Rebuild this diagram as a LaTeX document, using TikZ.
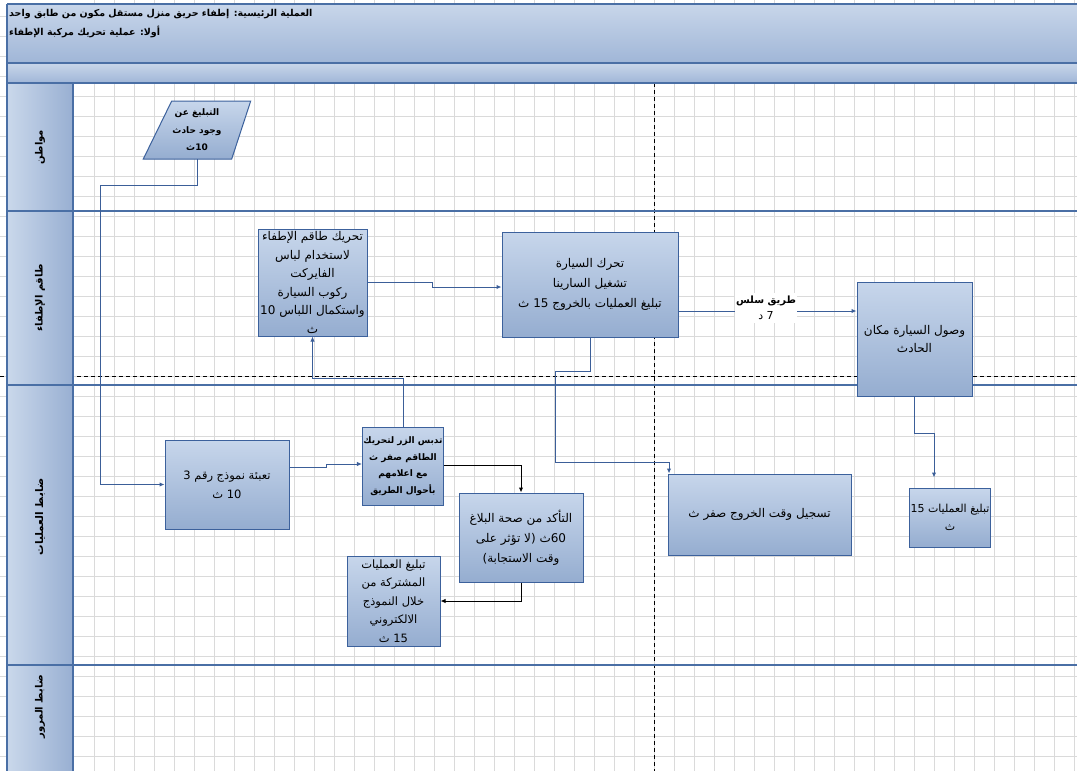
\documentclass[tikz,border=0pt]{standalone}
\usepackage{fontspec}
\newfontfamily\arb[Script=Arabic]{DejaVu Sans}
\TeXXeTstate=1
\usetikzlibrary{arrows.meta}

\definecolor{gridc}{HTML}{DADADA}
\definecolor{laneline}{HTML}{4A6FA5}
\definecolor{boxtop}{HTML}{C7D6EB}
\definecolor{boxbot}{HTML}{95ADD0}
\definecolor{boxline}{HTML}{3C619C}
\definecolor{connc}{HTML}{3B5E98}
\definecolor{hdtop}{HTML}{C8D6EA}
\definecolor{hdbot}{HTML}{A0B6D7}
\definecolor{coltop}{HTML}{CAD8EB}
\definecolor{colbot}{HTML}{98AFD2}

\begin{document}
\begin{tikzpicture}[x=1pt,y=-1pt,
  gridline/.style={draw=gridc, line width=0.7pt},
  divider/.style={draw=black, line width=1pt, dash pattern=on 4pt off 3pt},
  lanesep/.style={draw=laneline, line width=1.1pt},
  box/.style={draw=boxline, line width=1pt, top color=boxtop, bottom color=boxbot,
    align=center, inner sep=1pt, font=\arb\fontsize{12}{18.5}\selectfont},
  boldbox/.style={box, font=\arb\bfseries\fontsize{9}{16.5}\selectfont},
  conn/.style={draw=connc, line width=1pt, -{Latex[length=5pt,width=4.5pt]}},
  bconn/.style={conn, draw=black},
  lanelabel/.style={rotate=90, font=\arb\bfseries\fontsize{10}{12}\selectfont},
  title/.style={anchor=west, inner sep=0pt, font=\arb\bfseries\fontsize{9.5}{12}\selectfont}
]
\useasboundingbox (0,0) rectangle (1077,771);
\clip (0,0) rectangle (1077,771);
\fill[white] (0,0) rectangle (1077,771);

% background grid
\foreach \x in {94,114,...,1074} \draw[gridline] (\x,0) -- (\x,771);
\foreach \y in {16,36,...,770} \draw[gridline] (0,\y) -- (1077,\y);

% phase separators
\draw[divider] (0,376) -- (1077,376);
\draw[divider] (654,83) -- (654,771);

% lane title column
\shade[left color=coltop, right color=colbot] (7,83) rectangle (73,775);
\draw[lanesep] (7,83) -- (7,775);
\draw[lanesep] (73,83) -- (73,775);

% header bands
\shade[top color=hdtop, bottom color=hdbot] (7,4) rectangle (1082,63);
\shade[top color=hdtop, bottom color=hdbot] (7,63) rectangle (1082,83);
\draw[draw=laneline, line width=1.6pt] (7,4) -- (1082,4);
\draw[draw=laneline, line width=1.6pt] (7,63) -- (1082,63);
\draw[draw=laneline, line width=1.6pt] (7,83) -- (1082,83);
\draw[lanesep] (7,4) -- (7,83);

\node[title] (h1) at (9,14) {\beginR العملية الرئيسية\kern0pt: إطفاء حريق منزل مستقل مكون من طابق واحد\endR};
\node[title] (h2) at (9,32) {\beginR أولا\kern0pt: عملية تحريك مركبة الإطفاء\endR};

% lane separators
\draw[lanesep] (7,211) -- (1077,211);
\draw[lanesep] (7,385) -- (1077,385);
\draw[lanesep] (7,665) -- (1077,665);

% lane titles
\node[lanelabel] (l1) at (40,147) {\beginR مواطن\endR};
\node[lanelabel] (l2) at (40,298) {\beginR طاقم الإطفاء\endR};
\node[lanelabel, font=\arb\bfseries\fontsize{10.5}{12}\selectfont] (l3) at (40,517) {\beginR ضابط العمليات\endR};
\node[lanelabel] (l4) at (40,707) {\beginR ضابط المرور\endR};

% process steps
\path[draw=boxline, line width=1pt, top color=boxtop, bottom color=boxbot]
  (171.7,101) -- (250.7,101) -- (231.7,159) -- (143.3,159) -- cycle;
\node[align=center, inner sep=0pt, minimum width=60pt, minimum height=58pt,
  font=\arb\bfseries\fontsize{9}{17.5}\selectfont] (b1) at (197,130)
  {\beginR التبليغ عن\endR\\\beginR وجود حادث\endR\\\beginR 10\kern0ptث\endR};

\node[box, minimum width=109pt, minimum height=107pt] (b2) at (312.5,282.5)
  {\beginR تحريك طاقم الإطفاء\endR\\\beginR لاستخدام لباس\endR\\\beginR الفايركت\endR\\%
   \beginR ركوب السيارة\endR\\\beginR واستكمال اللباس 10\endR\\\beginR ث\endR};

\node[box, minimum width=176pt, minimum height=105pt,
  font=\arb\fontsize{12}{20}\selectfont] (b3) at (590,284.5)
  {\beginR تحرك السيارة\endR\\\beginR تشغيل السارينا\endR\\\beginR تبليغ العمليات بالخروج 15 ث\endR};

\node[box, minimum width=115pt, minimum height=114pt] (b5) at (914.5,339)
  {\beginR وصول السيارة مكان\endR\\\beginR الحادث\endR};

\node[box, minimum width=124pt, minimum height=89pt,
  font=\arb\fontsize{11.5}{19}\selectfont] (b6) at (227,484.5)
  {\beginR تعبئة نموذج رقم 3\endR\\\beginR 10 ث\endR};

\node[boldbox, minimum width=80pt, minimum height=78pt] (b7) at (403,466)
  {\beginR تدبس الزر لتحريك\endR\\\beginR الطاقم صفر ث\endR\\\beginR مع اعلامهم\endR\\\beginR بأحوال الطريق\endR};

\node[box, minimum width=124pt, minimum height=89pt,
  font=\arb\fontsize{12}{20}\selectfont] (b8) at (521,537.5)
  {\beginR التأكد من صحة البلاغ\endR\\\beginR 60\kern0ptث (\kern0ptلا تؤثر على\endR\\%
   \beginR وقت الاستجابة\kern0pt)\endR};

\node[box, minimum width=93pt, minimum height=90pt,
  font=\arb\fontsize{11.5}{18.5}\selectfont] (b9) at (393.5,601)
  {\beginR تبليغ العمليات\endR\\\beginR المشتركة من\endR\\\beginR خلال النموذج\endR\\%
   \beginR الالكتروني\endR\\\beginR 15 ث\endR};

\node[box, minimum width=183pt, minimum height=81pt] (b10) at (759.5,514.5)
  {\beginR تسجيل وقت الخروج صفر ث\endR};

\node[box, minimum width=80pt, minimum height=59pt,
  font=\arb\fontsize{11}{18}\selectfont] (b11) at (950,517.5)
  {\beginR تبليغ العمليات 15\endR\\\beginR ث\endR};

% connectors
\draw[conn] (b1.south) |- (100,185) |- (b6.west);
\draw[conn] (b6.east |- 0,467) -- (326,467) -- (326,464) -- (b7.west |- 0,464);
\draw[conn] (b7.north) -- (b7.north |- 0,378) -| (b2.south);
\draw[conn] (b2.east) -- (432,282.5) -- (432,287) -- (b3.west |- 0,287);
\draw[conn] (b3.east |- 0,311) -- (b5.west |- 0,311);
\draw[conn] (b3.south) |- (555,371) |- (669,462) -- (b10.north west -| 669,0);
\draw[conn, shorten >=10pt] (b5.south) |- (934,433) -- (b11.north west -| 934,0);
\draw[bconn] (b7.east |- 0,465) -| (b8.north);
\draw[bconn] (b8.south) |- (b9.east);

% connector label
\node[fill=white, align=center, inner sep=1pt, minimum width=54pt, minimum height=30pt,
  font=\arb\fontsize{11}{16}\selectfont] (t1) at (766,308)
  {\beginR{\bfseries\fontsize{10}{16}\selectfont طريق سلس}\endR\\\beginR 7 د\endR};
\end{tikzpicture}
\end{document}
